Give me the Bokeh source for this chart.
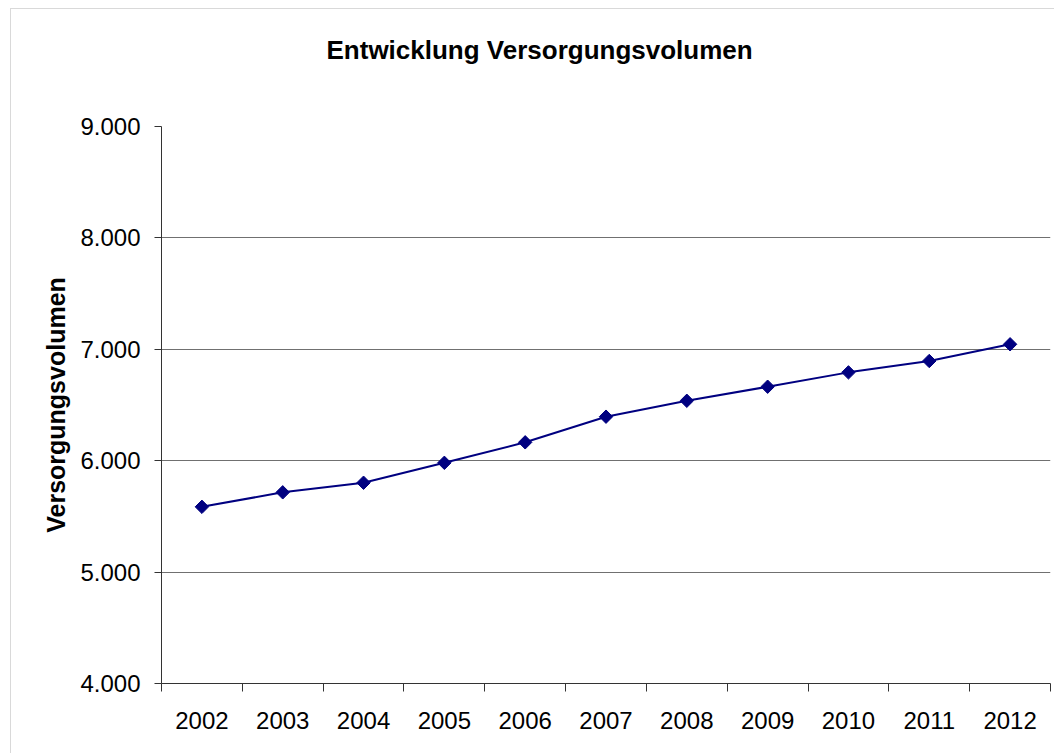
from bokeh.plotting import figure
from bokeh.models import FixedTicker, NumeralTickFormatter, Title, Range1d
from bokeh.embed import file_html
from bokeh.resources import INLINE
import numpy as np

years = [2002, 2003, 2004, 2005, 2006, 2007, 2008, 2009, 2010, 2011, 2012]
volumen = [5586, 5716, 5802, 5981, 6165, 6395, 6538, 6664, 6793, 6895, 7045]
y_ticks = [4000, 5000, 6000, 7000, 8000, 9000]
y_tick_labels = ["4.000", "5.000", "6.000", "7.000", "8.000", "9.000"]
title_text = "Entwicklung Versorgungsvolumen"
y_label = "Versorgungsvolumen"

FONT = "Liberation Sans"

p = figure(width=1044, height=745, output_backend="svg", toolbar_location=None,
           x_range=Range1d(years[0] - 0.5, years[-1] + 0.5),
           y_range=Range1d(y_ticks[0], y_ticks[-1]),
           min_border_left=150, min_border_top=117, min_border_bottom=71, min_border_right=5)
p.outline_line_color = None
p.background_fill_color = "white"
p.border_fill_color = "white"

# invisible spacer between frame and title (closest to frame), then the real title
spacer = Title(text=" ", standoff=54, text_font=FONT, text_font_size="1px", text_color="white")
p.add_layout(spacer, "above")
t = Title(text=title_text, align="left", offset=165, standoff=10,
          text_font=FONT, text_font_size="26px", text_font_style="bold", text_color="black")
p.add_layout(t, "above")

# x axis
xt = FixedTicker(ticks=years, minor_ticks=[y - 0.5 for y in years] + [years[-1] + 0.5])
p.xaxis.ticker = xt
p.xaxis.formatter = NumeralTickFormatter(format="0")
p.xaxis.major_tick_line_color = None
p.xaxis.minor_tick_line_color = "#333333"
p.xaxis.minor_tick_in = 0
p.xaxis.minor_tick_out = 8
p.xaxis.axis_line_color = "#333333"
p.xaxis.major_label_text_font = FONT
p.xaxis.major_label_text_font_size = "24px"
p.xaxis.major_label_text_color = "black"
p.xaxis.major_label_standoff = 20
p.xgrid.grid_line_color = None

# y axis
p.yaxis.ticker = FixedTicker(ticks=y_ticks, minor_ticks=[])
p.yaxis.major_label_overrides = {v: l for v, l in zip(y_ticks, y_tick_labels)}
p.yaxis.major_tick_in = 0
p.yaxis.major_tick_out = 7
p.yaxis.major_tick_line_color = "#333333"
p.yaxis.axis_line_color = "#333333"
p.yaxis.major_label_text_font = FONT
p.yaxis.major_label_text_font_size = "24px"
p.yaxis.major_label_text_color = "black"
p.yaxis.major_label_standoff = 14
p.yaxis.axis_label = y_label
p.yaxis.axis_label_text_font = FONT
p.yaxis.axis_label_text_font_size = "25px"
p.yaxis.axis_label_text_font_style = "bold"
p.yaxis.axis_label_text_color = "black"
p.yaxis.axis_label_standoff = 7
p.ygrid.ticker = FixedTicker(ticks=y_ticks, minor_ticks=[])
p.ygrid.grid_line_color = "#707070"
p.ygrid.grid_line_width = 1

p.line(years, volumen, line_color="#000080", line_width=2)
p.scatter(years, volumen, marker="square", angle=np.pi / 4, size=9.5,
          fill_color="#000080", line_color="#000080")

p.styles = {"border-left": "1px solid #d9d9d9", "border-top": "1px solid #d9d9d9",
            "margin-left": "10px", "margin-top": "8px"}

open("out.html", "w").write(file_html(p, INLINE))
